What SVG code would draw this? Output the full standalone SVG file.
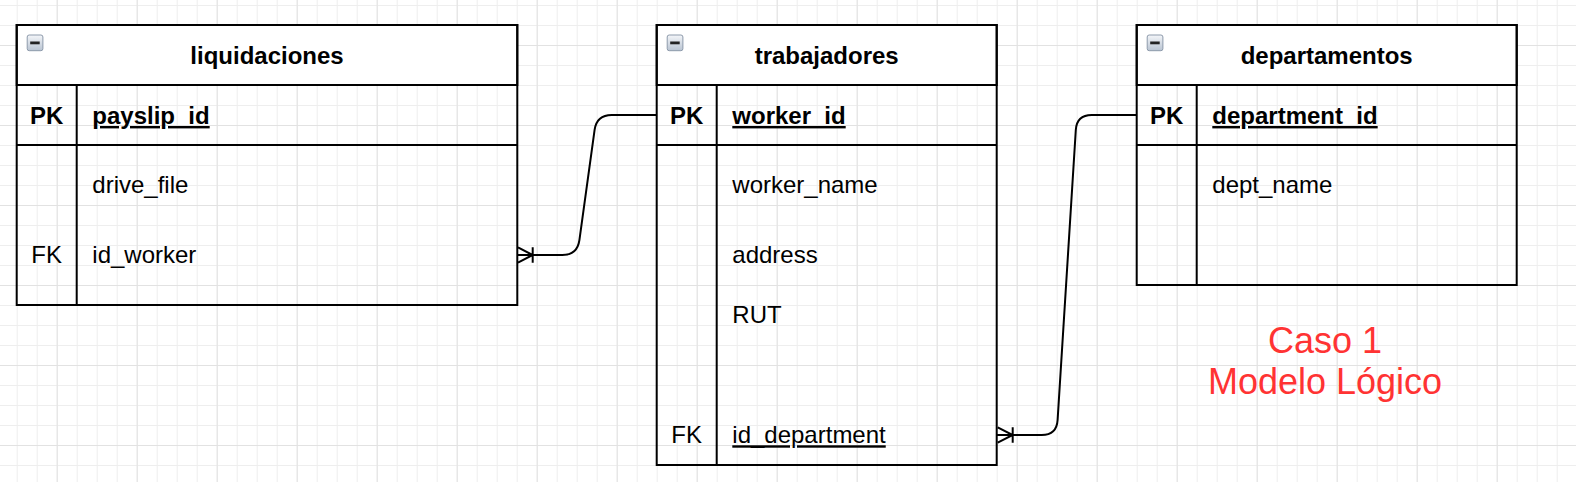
<svg xmlns="http://www.w3.org/2000/svg" width="1576" height="482" viewBox="0 0 1576 482">
<defs>
<pattern id="gMinor" patternUnits="userSpaceOnUse" x="16.7" y="5" width="20" height="20">
<path d="M0.5 0V20M0 0.5H20" stroke="#eeeeee" stroke-width="1" fill="none"/>
</pattern>
<pattern id="gMajor" patternUnits="userSpaceOnUse" x="56.7" y="45" width="80" height="80">
<path d="M0.5 0V80M0 0.5H80" stroke="#e2e2e2" stroke-width="1" fill="none"/>
</pattern>
<linearGradient id="icoG" x1="0" y1="0" x2="0" y2="1">
<stop offset="0" stop-color="#f4f6f9"/>
<stop offset="1" stop-color="#b9c4d2"/>
</linearGradient>
<g id="ico">
<rect x="0.5" y="0.5" width="15.7" height="15.7" rx="2" fill="url(#icoG)" stroke="#8d9aab" stroke-width="1"/>
<rect x="3.5" y="7" width="9.5" height="2.8" fill="#222"/>
</g>
</defs>
<style>
.box{fill:none;stroke:#000;stroke-width:2}
.hdr{fill:#fff;stroke:#000;stroke-width:2}
.ln{stroke:#000;stroke-width:2;fill:none}
.t{font-family:"Liberation Sans",Arial,Helvetica,sans-serif;font-size:24px;fill:#000}
.b{font-weight:bold}
.m{text-anchor:middle}
.u{text-decoration:underline}
.conn{fill:none;stroke:#000;stroke-width:2}
.note{font-family:"Liberation Sans",Arial,Helvetica,sans-serif;font-size:36px;fill:#ff3333;text-anchor:middle}
</style>
<rect width="1576" height="482" fill="#fff"/>
<rect width="1576" height="482" fill="url(#gMinor)"/>
<rect width="1576" height="482" fill="url(#gMajor)"/>

<g id="liquidaciones">
<rect class="hdr" x="16.7" y="25" width="500.6" height="60"/>
<rect class="box" x="16.7" y="25" width="500.6" height="280"/>
<line class="ln" x1="16.7" y1="145" x2="517.3" y2="145"/>
<line class="ln" x1="76.7" y1="85" x2="76.7" y2="305"/>
<use href="#ico" x="26.7" y="34.5"/>
<text class="t b m" x="267" y="64">liquidaciones</text>
<text class="t b m" x="46.7" y="124">PK</text>
<text class="t b u" x="92.3" y="124">payslip_id</text>
<text class="t" x="92.3" y="193.3">drive_file</text>
<text class="t m" x="46.7" y="263.3">FK</text>
<text class="t" x="92.3" y="263.3">id_worker</text>
</g>

<g id="trabajadores">
<rect class="hdr" x="656.7" y="25" width="340" height="60"/>
<rect class="box" x="656.7" y="25" width="340" height="440"/>
<line class="ln" x1="656.7" y1="145" x2="996.7" y2="145"/>
<line class="ln" x1="716.7" y1="85" x2="716.7" y2="465"/>
<use href="#ico" x="666.7" y="34.5"/>
<text class="t b m" x="826.7" y="64">trabajadores</text>
<text class="t b m" x="686.7" y="124">PK</text>
<text class="t b u" x="732.3" y="124">worker_id</text>
<text class="t" x="732.3" y="193.3">worker_name</text>
<text class="t" x="732.3" y="263.3">address</text>
<text class="t" x="732.3" y="323.3">RUT</text>
<text class="t m" x="686.7" y="443.3">FK</text>
<text class="t u" x="732.3" y="443.3">id_department</text>
</g>

<g id="departamentos">
<rect class="hdr" x="1136.7" y="25" width="380" height="60"/>
<rect class="box" x="1136.7" y="25" width="380" height="260"/>
<line class="ln" x1="1136.7" y1="145" x2="1516.7" y2="145"/>
<line class="ln" x1="1196.7" y1="85" x2="1196.7" y2="285"/>
<use href="#ico" x="1146.7" y="34.5"/>
<text class="t b m" x="1326.7" y="64">departamentos</text>
<text class="t b m" x="1166.7" y="124">PK</text>
<text class="t b u" x="1212.3" y="124">department_id</text>
<text class="t" x="1212.3" y="193.3">dept_name</text>
</g>

<g id="connectors">
<path class="conn" d="M517.3 255H562.3Q577.3 255 579.4 240.1L594.6 129.9Q596.7 115 611.7 115H656.7"/>
<path class="conn" d="M518 247.3L532.7 255L518 262.7M532.7 247.3V262.7"/>
<path class="conn" d="M996.7 435H1041.7Q1056.7 435 1057.6 420L1075.8 130Q1076.7 115 1091.7 115H1136.7"/>
<path class="conn" d="M997.7 427.3L1012.7 435L997.7 442.7M1012.7 427.3V442.7"/>
</g>

<g id="note">
<text class="note" x="1325" y="352.7">Caso 1</text>
<text class="note" x="1325" y="394.3">Modelo Lógico</text>
</g>
</svg>
